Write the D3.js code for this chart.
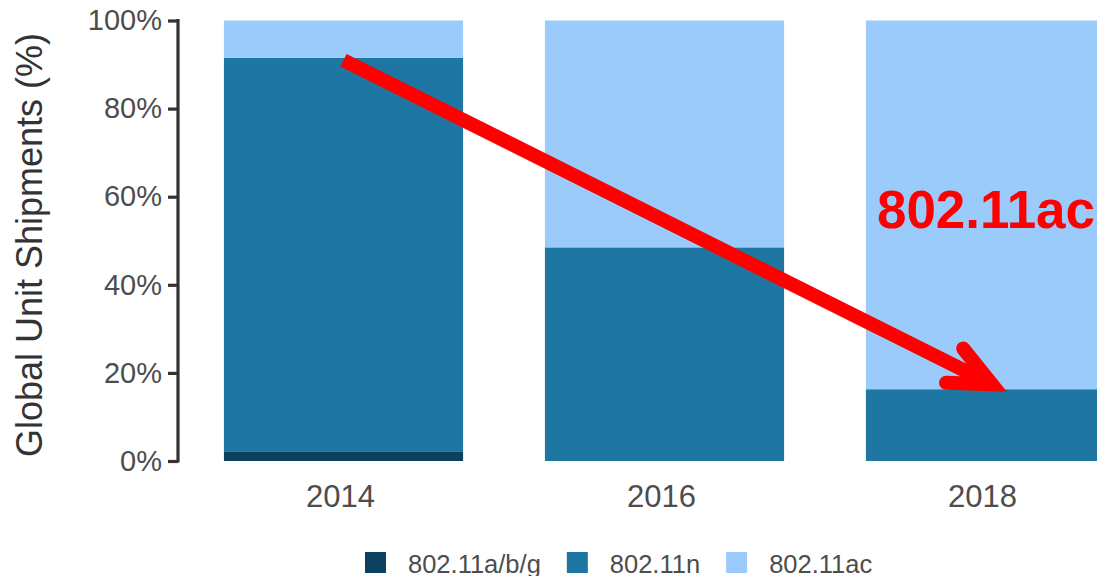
<!DOCTYPE html>
<html>
<head>
<meta charset="utf-8">
<script src="https://cdn.jsdelivr.net/npm/d3@7"></script>
<style>
  body { margin: 0; background: #fff; }
  svg { display: block; font-family: "Liberation Sans", Arial, Helvetica, sans-serif; }
</style>
</head>
<body>
<div id="chart"></div>
<script>
// data
var years = ["2014", "2016", "2018"];
var series = ["802.11a/b/g", "802.11n", "802.11ac"];
var share_abg = [0.022, 0.0, 0.0];
var share_n   = [0.893, 0.485, 0.163];
var share_ac  = [0.085, 0.515, 0.837];
var y_ticks = [0, 0.2, 0.4, 0.6, 0.8, 1.0];
var colors = ["#0b4262", "#1e76a3", "#9bcbfb"];

// annotation: arrow from 2014 top of 802.11n down to 2018
var arrow_from = ["2014", 0.91, 0];
var arrow_to   = ["2018", 0.174, 0.027];   // [year, value, offset in band widths]
var note_label = ["2018", 0.53, "802.11ac"];

var width = 1097, height = 576;

var svg = d3.select("#chart").append("svg")
    .attr("width", width)
    .attr("height", height);

var x = d3.scaleBand()
    .domain(years)
    .range([183, 1146])
    .paddingInner(0.255)
    .paddingOuter(0.1275);

var y = d3.scaleLinear()
    .domain([0, 1])
    .range([461, 20.5]);

var rows = years.map(function (yr, i) {
    return { year: yr, "802.11a/b/g": share_abg[i], "802.11n": share_n[i], "802.11ac": share_ac[i] };
});

var stack = d3.stack().keys(series)(rows);

var color = d3.scaleOrdinal().domain(series).range(colors);

// bars
svg.append("g").selectAll("g")
    .data(stack)
    .enter().append("g")
        .attr("fill", function (d) { return color(d.key); })
    .selectAll("rect")
    .data(function (d) { return d; })
    .enter().append("rect")
        .attr("x", function (d) { return x(d.data.year); })
        .attr("width", x.bandwidth())
        .attr("y", function (d) { return y(d[1]); })
        .attr("height", function (d) { return Math.max(0, y(d[0]) - y(d[1])); });

// y axis
var yAxis = svg.append("g")
    .attr("transform", "translate(178,0)")
    .call(d3.axisLeft(y).tickValues(y_ticks).tickFormat(d3.format(".0%"))
        .tickSize(10).tickPadding(6));
yAxis.select(".domain")
    .attr("d", "M0," + (y(0) + 1.5) + "V" + (y(1) - 1.5))
    .attr("stroke", "#333").attr("stroke-width", 3.2);
yAxis.selectAll(".tick line").attr("stroke", "#333").attr("stroke-width", 3.2);
yAxis.selectAll(".tick text")
    .attr("fill", "#4d4d4d")
    .style("font-size", "29px");

// x labels
var xAxis = svg.append("g")
    .attr("transform", "translate(0," + y(0) + ")")
    .call(d3.axisBottom(x).tickSize(0).tickPadding(24));
xAxis.select(".domain").remove();
xAxis.selectAll(".tick text")
    .attr("fill", "#4d4d4d")
    .attr("dx", -3)
    .style("font-size", "31px");

// y title
svg.append("text")
    .attr("transform", "translate(42,245) rotate(-90)")
    .attr("text-anchor", "middle")
    .attr("fill", "#333")
    .style("font-size", "36px")
    .text("Global Unit Shipments (%)");

// legend
var legend = svg.append("g").attr("transform", "translate(365,552)");
var lx = 0;
series.forEach(function (s) {
    var item = legend.append("g").attr("transform", "translate(" + lx + ",0)");
    item.append("rect")
        .attr("width", 21).attr("height", 21)
        .attr("fill", color(s));
    var t = item.append("text")
        .attr("x", 43).attr("y", 20.5)
        .attr("fill", "#4d4d4d")
        .style("font-size", "25.5px")
        .text(s);
    lx += 43 + t.node().getComputedTextLength() + 26;
});

// annotation arrow
var ax0 = x(arrow_from[0]) + x.bandwidth() / 2 + arrow_from[2] * x.bandwidth(),
    ay0 = y(arrow_from[1]),
    ax1 = x(arrow_to[0]) + x.bandwidth() / 2 + arrow_to[2] * x.bandwidth(),
    ay1 = y(arrow_to[1]);
var ang = Math.atan2(ay1 - ay0, ax1 - ax0);
var head = 46, spread = 0.43;

var shaft = d3.path();
shaft.moveTo(ax0, ay0);
shaft.lineTo(ax1, ay1);
svg.append("path")
    .attr("d", shaft.toString())
    .attr("stroke", "#ff0000").attr("stroke-width", 14)
    .attr("fill", "none");

var hp = d3.path();
hp.moveTo(ax1 - head * Math.cos(ang - spread), ay1 - head * Math.sin(ang - spread));
hp.lineTo(ax1, ay1);
hp.lineTo(ax1 - head * Math.cos(ang + spread), ay1 - head * Math.sin(ang + spread));
svg.append("path")
    .attr("d", hp.toString())
    .attr("stroke", "#ff0000").attr("stroke-width", 14)
    .attr("stroke-linecap", "round")
    .attr("stroke-linejoin", "miter")
    .attr("stroke-miterlimit", 10)
    .attr("fill", "none");

svg.append("text")
    .attr("x", x(note_label[0]) + 11)
    .attr("y", y(note_label[1]))
    .attr("fill", "#ff0000")
    .style("font-size", "53px")
    .style("font-weight", "bold")
    .text(note_label[2]);
</script>
</body>
</html>
